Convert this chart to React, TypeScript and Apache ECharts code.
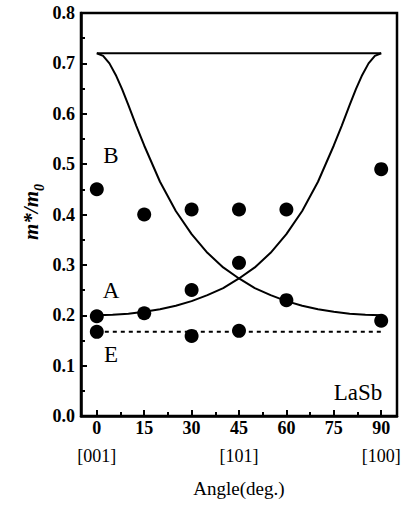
import React, { useEffect, useRef } from "react";
import * as echarts from "echarts";

// Fitted curve A (rises from [001] to [100])
const curveAAngles = [0, 5, 10, 15, 20, 25, 30, 35, 40, 45, 50, 55, 60, 65, 70, 75, 77.5, 80, 82, 84, 86, 88, 90];
const curveAValues = [0.2, 0.201, 0.203, 0.207, 0.212, 0.219, 0.228, 0.24, 0.254, 0.273, 0.295, 0.324, 0.361, 0.407, 0.465, 0.537, 0.576, 0.617, 0.649, 0.677, 0.7, 0.715, 0.72];
// Fitted curve B (falls from [001] to [100])
const curveBAngles = [0, 2, 4, 6, 8, 10, 12.5, 15, 20, 25, 30, 35, 40, 45, 50, 55, 60, 65, 70, 75, 80, 85, 90];
const curveBValues = [0.72, 0.715, 0.7, 0.677, 0.649, 0.617, 0.576, 0.537, 0.465, 0.407, 0.361, 0.324, 0.295, 0.273, 0.254, 0.24, 0.228, 0.219, 0.212, 0.207, 0.203, 0.201, 0.2];
// Top flat line
const topLineAngles = [0, 90];
const topLineValues = [0.72, 0.72];
// E branch (dashed)
const eLineAngles = [0, 90];
const eLineValues = [0.167, 0.167];
// Measured points
const pointAngles = [0, 0, 0, 15, 15, 30, 30, 30, 45, 45, 45, 60, 60, 90, 90];
const pointValues = [0.45, 0.198, 0.167, 0.4, 0.204, 0.41, 0.25, 0.159, 0.41, 0.304, 0.169, 0.41, 0.23, 0.49, 0.189];

const xMajorTicks = [0, 15, 30, 45, 60, 75, 90];
const xMinorTicks = [7.5, 22.5, 37.5, 52.5, 67.5, 82.5];
const directionAngles = [0, 45, 90];
const directionLabels = ["[001]", "[101]", "[100]"];
const branchLabels = ["B", "A", "E"];
const materialLabel = "LaSb";
const xTitle = "Angle(deg.)";

const FONT = "Liberation Serif";

const zip = (xs: number[], ys: number[]) => xs.map((x, i) => [x, ys[i]]);

export default function App() {
  const ref = useRef<HTMLDivElement>(null);
  useEffect(() => {
    if (!ref.current) return;
    const chart = echarts.init(ref.current, null, { renderer: "svg" });
    const black = "#000";
    const lineSeries = (data: number[][], dashed = false) => ({
      type: "line",
      data,
      showSymbol: false,
      symbol: "none",
      smooth: false,
      lineStyle: { color: black, width: 2, type: dashed ? [4, 4] : "solid" },
      z: 2,
      silent: true,
    });
    const label = (text: string, x: number, y: number) => ({
      type: "text",
      x,
      y,
      style: { text, fontFamily: FONT, fontSize: 23, fill: black, align: "center", verticalAlign: "middle" },
    });
    chart.setOption({
      animation: false,
      backgroundColor: "#fff",
      textStyle: { fontFamily: FONT },
      grid: { left: 81, right: 10, top: 13, bottom: 90, show: true, borderColor: black, borderWidth: 2.5, backgroundColor: "transparent" },
      xAxis: [
        {
          type: "value",
          min: -5,
          max: 95,
          splitLine: { show: false },
          axisLine: { show: true, onZero: false, lineStyle: { color: black, width: 2.5 } },
          axisTick: { show: true, inside: true, length: 6, lineStyle: { color: black, width: 2 }, customValues: xMajorTicks },
          axisLabel: { show: true, customValues: xMajorTicks, color: black, fontFamily: FONT, fontWeight: "bold", fontSize: 18, margin: 3 },
          name: xTitle,
          nameLocation: "middle",
          nameGap: 63,
          nameTextStyle: { color: black, fontFamily: FONT, fontSize: 19 },
        },
        {
          type: "value",
          min: -5,
          max: 95,
          position: "bottom",
          splitLine: { show: false },
          axisLine: { show: false, onZero: false },
          axisTick: { show: true, inside: true, length: 4, lineStyle: { color: black, width: 2 }, customValues: xMinorTicks },
          axisLabel: { show: false },
        },
        {
          type: "value",
          min: -5,
          max: 95,
          position: "bottom",
          splitLine: { show: false },
          axisLine: { show: false, onZero: false },
          axisTick: { show: false },
          axisLabel: {
            show: true,
            customValues: directionAngles,
            margin: 31,
            color: black,
            fontFamily: FONT,
            fontSize: 18,
            formatter: (v: number) => directionLabels[directionAngles.indexOf(v)] ?? "",
          },
        },
      ],
      yAxis: {
        type: "value",
        min: 0,
        max: 0.8,
        interval: 0.1,
        splitLine: { show: false },
        axisLine: { show: true, onZero: false, lineStyle: { color: black, width: 2.5 } },
        axisTick: { show: true, inside: true, length: 6, lineStyle: { color: black, width: 2 } },
        minorTick: { show: true, splitNumber: 2, length: 4, lineStyle: { color: black, width: 2 } },
        axisLabel: { color: black, fontFamily: FONT, fontWeight: "bold", fontSize: 18, margin: 6, formatter: (v: number) => v.toFixed(1) },
      },
      series: [
        lineSeries(zip(topLineAngles, topLineValues)),
        lineSeries(zip(curveAAngles, curveAValues)),
        lineSeries(zip(curveBAngles, curveBValues)),
        lineSeries(zip(eLineAngles, eLineValues), true),
        {
          type: "scatter",
          data: zip(pointAngles, pointValues),
          symbol: "circle",
          symbolSize: 14,
          itemStyle: { color: black, opacity: 1 },
          z: 3,
          silent: true,
        },
      ],
      graphic: [
        label(branchLabels[0], 111, 155),
        label(branchLabels[1], 111, 290),
        label(branchLabels[2], 111, 354),
        label(materialLabel, 358, 392),
        {
          type: "text",
          x: 33,
          y: 240,
          rotation: Math.PI / 2,
          style: {
            text: "{i|m*/m}{s|0}",
            verticalAlign: "middle",
            rich: {
              i: { fontFamily: FONT, fontStyle: "italic", fontWeight: "bold", fontSize: 21, fill: black, verticalAlign: "bottom", padding: [0, 0, 5, 0] },
              s: { fontFamily: FONT, fontStyle: "italic", fontWeight: "bold", fontSize: 14, fill: black, verticalAlign: "bottom" },
            },
          },
        },
      ],
    });
    return () => chart.dispose();
  }, []);
  return <div ref={ref} style={{ position: "fixed", left: 0, top: 0, width: 407, height: 506 }} />;
}
